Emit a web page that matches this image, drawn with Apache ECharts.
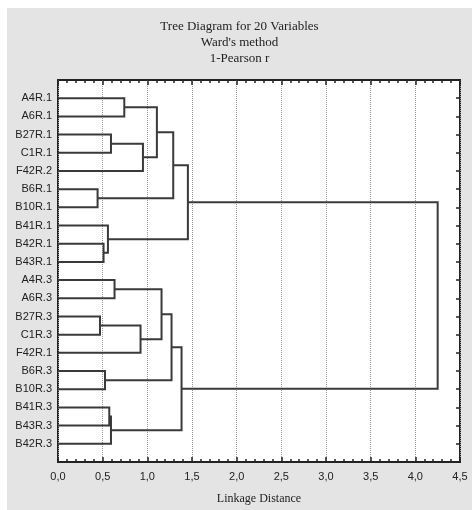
<!DOCTYPE html>
<html>
<head>
<meta charset="utf-8">
<script src="https://cdn.jsdelivr.net/npm/echarts@6/dist/echarts.min.js"></script>
<style>
  html, body { margin: 0; padding: 0; background: #fff; }
  #main { position: absolute; left: 7px; top: 8px; width: 465px; height: 502px; }
</style>
</head>
<body>
<div id="main"></div>
<script>
// leaf order, top to bottom
const leaves = ['A4R.1', 'A6R.1', 'B27R.1', 'C1R.1', 'F42R.2', 'B6R.1', 'B10R.1', 'B41R.1', 'B42R.1', 'B43R.1',
  'A4R.3', 'A6R.3', 'B27R.3', 'C1R.3', 'F42R.1', 'B6R.3', 'B10R.3', 'B41R.3', 'B43R.3', 'B42R.3'];

// joins: nodes 0..19 are leaves, each join adds node 20, 21, ...
const joinLeft = [5, 12, 8, 15, 7, 17, 2, 25, 10, 0, 21, 26, 29, 28, 33, 32, 34, 35, 37];
const joinRight = [6, 13, 9, 16, 22, 18, 3, 19, 11, 1, 14, 4, 31, 30, 23, 20, 27, 24, 36];
const joinDist = [0.443, 0.47, 0.51, 0.526, 0.559, 0.574, 0.593, 0.593, 0.633, 0.742,
  0.924, 0.951, 1.107, 1.159, 1.271, 1.29, 1.383, 1.454, 4.25];

// node positions: leaves at their row, joins at the mean of their two children
let nodeY = leaves.map((n, i) => i);
let nodeH = leaves.map(() => 0);
let links = [];
for (let i = 0; i < joinDist.length; i++) {
  let a = joinLeft[i], b = joinRight[i];
  links.push([nodeH[a], nodeY[a], joinDist[i], nodeY[b], nodeH[b]]);
  nodeY.push((nodeY[a] + nodeY[b]) / 2);
  nodeH.push(joinDist[i]);
}

const chart = echarts.init(document.getElementById('main'));
const fmt = (v) => v.toFixed(1).replace('.', ',');
const tickStyle = { color: '#222', width: 1.5 };

const option = {
  backgroundColor: '#e4e4e4',
  animation: false,
  title: {
    text: 'Tree Diagram for 20 Variables\nWard\'s method\n1-Pearson r',
    left: 'center',
    top: 6,
    textStyle: {
      fontFamily: 'Liberation Serif',
      fontSize: 13,
      fontWeight: 'normal',
      color: '#222',
      lineHeight: 16
    }
  },
  grid: {
    left: 51,
    right: 12,
    top: 72,
    bottom: 44,
    show: true,
    backgroundColor: '#fff',
    borderColor: '#222',
    borderWidth: 2
  },
  xAxis: [{
    type: 'value',
    min: 0,
    max: 4.5,
    interval: 0.5,
    position: 'bottom',
    name: 'Linkage Distance',
    nameLocation: 'middle',
    nameGap: 31,
    nameTextStyle: { fontFamily: 'Liberation Serif', fontSize: 12, color: '#222' },
    axisLine: { show: false, onZero: false },
    axisTick: { show: true, inside: true, length: 5, lineStyle: tickStyle },
    minorTick: { show: true, splitNumber: 5, length: 3, lineStyle: tickStyle },
    axisLabel: {
      margin: 9,
      fontFamily: 'Liberation Sans',
      fontSize: 11,
      color: '#222',
      formatter: fmt
    },
    splitLine: { show: true, lineStyle: { color: '#999', type: 'dotted', width: 1 } }
  }, {
    type: 'value',
    min: 0,
    max: 4.5,
    interval: 0.5,
    position: 'top',
    axisLine: { show: false, onZero: false },
    axisTick: { show: true, inside: true, length: 5, lineStyle: tickStyle },
    minorTick: { show: true, splitNumber: 5, length: 3, lineStyle: tickStyle },
    axisLabel: { show: false },
    splitLine: { show: false }
  }],
  yAxis: [{
    type: 'value',
    min: -1,
    max: 20,
    interval: 1,
    inverse: true,
    axisLine: { show: false, onZero: false },
    axisTick: { show: false },
    axisLabel: {
      margin: 6,
      fontFamily: 'Liberation Sans',
      fontSize: 11,
      color: '#222',
      formatter: (v) => leaves[v] || ''
    },
    splitLine: { show: false }
  }, {
    type: 'value',
    min: -1,
    max: 20,
    interval: 1,
    inverse: true,
    position: 'right',
    axisLine: { show: false, onZero: false },
    axisTick: { show: true, inside: true, length: 4, lineStyle: tickStyle },
    axisLabel: { show: false },
    splitLine: { show: false }
  }],
  series: [{
    type: 'custom',
    xAxisIndex: 0,
    yAxisIndex: 0,
    encode: { x: [0, 2, 4], y: [1, 3] },
    data: links,
    renderItem: (params, api) => {
      let p1 = api.coord([api.value(0), api.value(1)]);
      let p2 = api.coord([api.value(2), api.value(1)]);
      let p3 = api.coord([api.value(2), api.value(3)]);
      let p4 = api.coord([api.value(4), api.value(3)]);
      return {
        type: 'polyline',
        shape: { points: [p1, p2, p3, p4] },
        style: { stroke: '#3a3a3a', lineWidth: 2, fill: null }
      };
    }
  }]
};

chart.setOption(option);
</script>
</body>
</html>
